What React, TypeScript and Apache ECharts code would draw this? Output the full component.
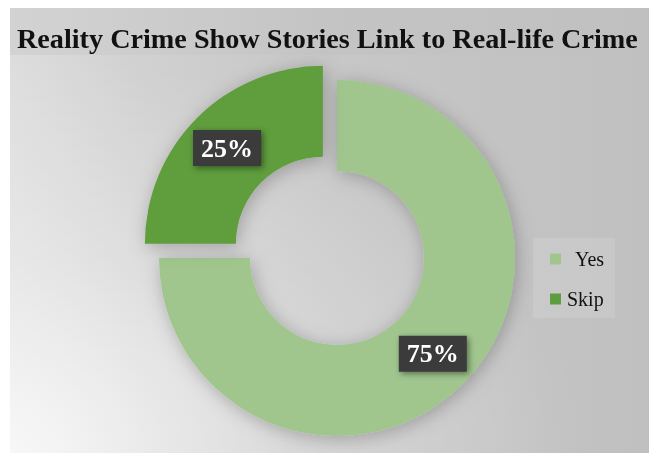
import React, { useEffect, useRef } from "react";
import * as echarts from "echarts";

const titleText = "Reality Crime Show Stories Link to Real-life Crime";
const categories = ["Yes", "Skip"];
const values = [75, 25];
const colors = ["#a0c68e", "#5e9d3d"];

export default function App() {
  const ref = useRef<HTMLDivElement>(null);
  useEffect(() => {
    if (!ref.current) return;
    const chart = echarts.init(ref.current, null, { renderer: "svg" });
    const serif = "'Liberation Serif', 'Times New Roman', serif";
    chart.setOption({
      animation: false,
      graphic: [
        { type: "rect", left: 0, top: 0, z: -10, shape: { width: 649, height: 453 }, style: { fill: "#ffffff" }, silent: true },
        {
          type: "rect", left: 10, top: 8, z: -9, silent: true,
          shape: { width: 639, height: 445 },
          style: {
            fill: new echarts.graphic.LinearGradient(0, 0, 1, 0, [
              { offset: 0, color: "#dddddd" },
              { offset: 0.2, color: "#d1d1d1" },
              { offset: 0.45, color: "#c8c8c8" },
              { offset: 1, color: "#c0c0c0" },
            ]),
          },
        },
        {
          type: "rect", left: 10, top: 8, z: -9, silent: true,
          shape: { width: 639, height: 445 },
          style: {
            fill: new echarts.graphic.RadialGradient(0, 1, 0.9, [
              { offset: 0, color: "rgba(255,255,255,0.78)" },
              { offset: 0.5, color: "rgba(255,255,255,0.3)" },
              { offset: 1, color: "rgba(255,255,255,0)" },
            ]),
          },
        },
        {
          type: "rect", left: 10, top: 8, z: -8, silent: true,
          shape: { width: 639, height: 47 },
          style: {
            fill: new echarts.graphic.LinearGradient(0, 0, 1, 0, [
              { offset: 0, color: "#d3d3d3" },
              { offset: 0.5, color: "#c4c4c4" },
              { offset: 1, color: "#c0c0c0" },
            ]),
          },
        },
        {
          type: "rect", left: 533, top: 238, z: -7, silent: true,
          shape: { width: 82, height: 80 },
          style: { fill: "rgba(255,255,255,0.12)" },
        },
      ],
      title: {
        text: titleText,
        left: 12,
        top: 19,
        textStyle: { fontFamily: serif, fontWeight: "bold", fontSize: 28.2, color: "#111111" },
      },
      legend: {
        orient: "vertical",
        left: 545,
        top: 244,
        itemWidth: 11,
        itemHeight: 11,
        itemGap: 20,
        icon: "rect",
        data: categories,
        formatter: (name: string) => (name === "Yes" ? "{y|" + name + "}" : "{s|" + name + "}"),
        textStyle: {
          fontFamily: serif,
          fontSize: 20,
          color: "#111111",
          rich: {
            y: { fontFamily: serif, fontSize: 20, color: "#111111", padding: [0, 0, 0, 9] },
            s: { fontFamily: serif, fontSize: 20, color: "#111111", padding: [0, 0, 0, 1] },
          },
        },
        selectedMode: false,
      },
      series: [
        {
          type: "pie",
          center: [337, 258],
          radius: [87, 178],
          startAngle: 90,
          clockwise: true,
          selectedMode: "single",
          selectedOffset: 20,
          silent: true,
          itemStyle: {
            shadowBlur: 18,
            shadowColor: "rgba(0,0,0,0.25)",
            shadowOffsetX: 2,
            shadowOffsetY: 3,
          },
          label: {
            show: true,
            position: "inside",
            formatter: "{d}%",
            fontFamily: serif,
            fontWeight: "bold",
            fontSize: 26,
            lineHeight: 26,
            color: "#ffffff",
            backgroundColor: "#3a3a3a",
            padding: [5, 8, 5, 8],
            shadowBlur: 6,
            shadowColor: "rgba(0,0,0,0.45)",
            shadowOffsetX: 2,
            shadowOffsetY: 2,
          },
          labelLine: { show: false },
          data: categories.map((c, i) => ({
            name: c,
            value: values[i],
            selected: c === "Skip",
            itemStyle: { color: colors[i] },
          })),
        },
      ],
    });
    return () => chart.dispose();
  }, []);
  return <div ref={ref} style={{ position: "fixed", left: 0, top: 0, width: 649, height: 453 }} />;
}
